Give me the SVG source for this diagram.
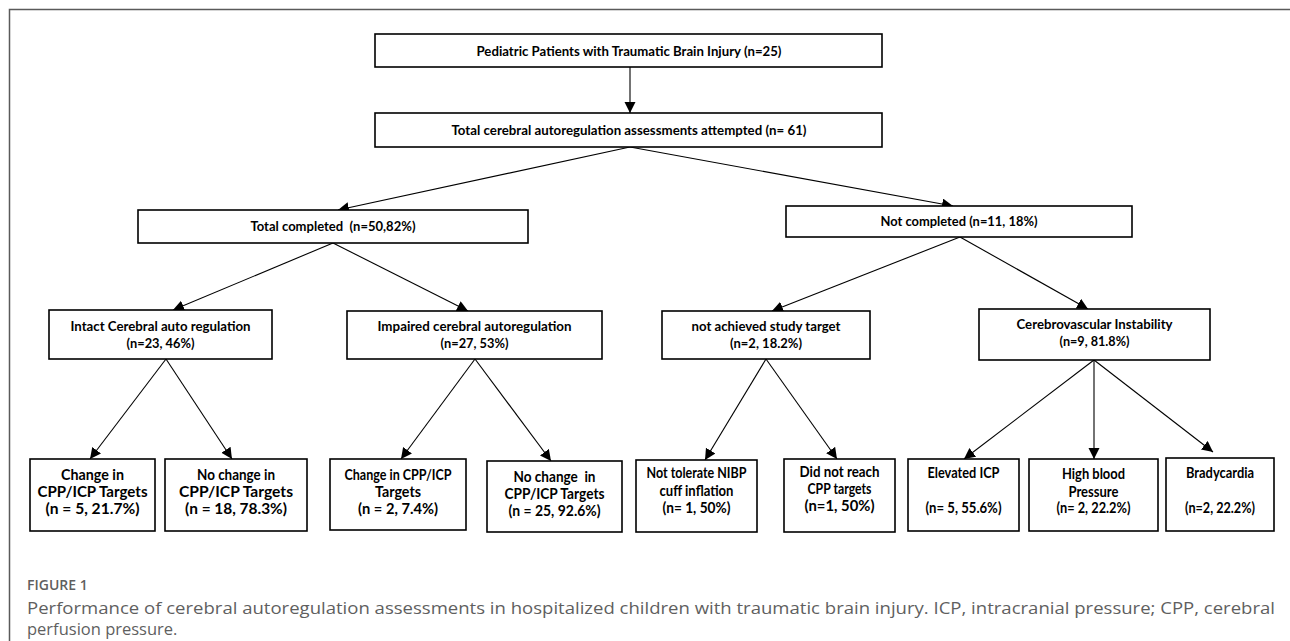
<svg xmlns="http://www.w3.org/2000/svg" width="1290" height="641" viewBox="0 0 1290 641">
<style>
.box{fill:#fff;stroke:#000;stroke-width:1.6}
.t{font-family:Lato,"Liberation Sans",sans-serif;font-weight:700;fill:#000;text-anchor:middle}
.t1{font-size:14px}
.t2{font-size:15px}
.con line{stroke:#000;stroke-width:1.1}
.frame{stroke:#5a5a5a;stroke-width:1.5;fill:none}
.cap{font-family:"Open Sans","Liberation Sans",sans-serif;fill:#5f5f5f}
</style>
<defs>
<marker id="ah" markerUnits="userSpaceOnUse" markerWidth="12" markerHeight="12" refX="11" refY="5.5" orient="auto">
<path d="M0,0 L11,5.5 L0,11 z" fill="#000"/>
</marker>
</defs>
<rect width="1290" height="641" fill="#fff"/>
<path class="frame" d="M9.5,641 V9.5 H1290"/>

<g class="con">
<line x1="630" y1="67" x2="630" y2="113" marker-end="url(#ah)"/>
<line x1="630" y1="147" x2="338" y2="210" marker-end="url(#ah)"/>
<line x1="630" y1="147" x2="953" y2="206" marker-end="url(#ah)"/>
<line x1="333" y1="243" x2="173" y2="310" marker-end="url(#ah)"/>
<line x1="333" y1="243" x2="468" y2="311" marker-end="url(#ah)"/>
<line x1="960" y1="237" x2="772" y2="311" marker-end="url(#ah)"/>
<line x1="960" y1="237" x2="1088" y2="309" marker-end="url(#ah)"/>
<line x1="166" y1="359" x2="90" y2="459" marker-end="url(#ah)"/>
<line x1="166" y1="359" x2="232" y2="459" marker-end="url(#ah)"/>
<line x1="475" y1="359" x2="401" y2="459" marker-end="url(#ah)"/>
<line x1="475" y1="359" x2="551" y2="461" marker-end="url(#ah)"/>
<line x1="766" y1="359" x2="705" y2="460" marker-end="url(#ah)"/>
<line x1="766" y1="359" x2="837" y2="459" marker-end="url(#ah)"/>
<line x1="1094" y1="360" x2="964" y2="459" marker-end="url(#ah)"/>
<line x1="1094" y1="360" x2="1094" y2="459" marker-end="url(#ah)"/>
<line x1="1094" y1="360" x2="1213" y2="452" marker-end="url(#ah)"/>
</g>

<g id="n-patients">
<rect class="box" x="375" y="34" width="507" height="33"/>
<text class="t t1" x="629" y="56" textLength="305" lengthAdjust="spacingAndGlyphs">Pediatric Patients with Traumatic Brain Injury (n=25)</text>
</g>
<g id="n-attempted">
<rect class="box" x="375" y="113" width="507" height="34"/>
<text class="t t1" x="629" y="135" textLength="355" lengthAdjust="spacingAndGlyphs">Total cerebral autoregulation assessments attempted (n= 61)</text>
</g>
<g id="n-completed">
<rect class="box" x="138" y="210" width="390" height="33"/>
<text class="t t1" x="333" y="231" textLength="165" lengthAdjust="spacingAndGlyphs" xml:space="preserve">Total completed  (n=50,82%)</text>
</g>
<g id="n-notcompleted">
<rect class="box" x="786" y="206" width="346" height="31"/>
<text class="t t1" x="959" y="226" textLength="157" lengthAdjust="spacingAndGlyphs">Not completed (n=11, 18%)</text>
</g>
<g id="n-intact">
<rect class="box" x="49" y="310" width="223" height="49"/>
<text class="t t1" x="160.5" y="331" textLength="180" lengthAdjust="spacingAndGlyphs">Intact Cerebral auto regulation</text>
<text class="t t1" x="160.5" y="348" textLength="68" lengthAdjust="spacingAndGlyphs">(n=23, 46%)</text>
</g>
<g id="n-impaired">
<rect class="box" x="347" y="311" width="255" height="48"/>
<text class="t t1" x="474.5" y="331" textLength="194" lengthAdjust="spacingAndGlyphs">Impaired cerebral autoregulation</text>
<text class="t t1" x="474.5" y="348" textLength="68" lengthAdjust="spacingAndGlyphs">(n=27, 53%)</text>
</g>
<g id="n-notachieved">
<rect class="box" x="662" y="311" width="208" height="48"/>
<text class="t t1" x="766" y="331" textLength="149" lengthAdjust="spacingAndGlyphs">not achieved study target</text>
<text class="t t1" x="766" y="348" textLength="72" lengthAdjust="spacingAndGlyphs">(n=2, 18.2%)</text>
</g>
<g id="n-cerebro">
<rect class="box" x="979" y="309" width="231" height="51"/>
<text class="t t1" x="1094.5" y="329" textLength="156" lengthAdjust="spacingAndGlyphs">Cerebrovascular Instability</text>
<text class="t t1" x="1094.5" y="346" textLength="70" lengthAdjust="spacingAndGlyphs">(n=9, 81.8%)</text>
</g>

<g id="n-b1">
<rect class="box" x="30" y="459" width="125" height="72"/>
<text class="t t2" x="92.5" y="480" textLength="63" lengthAdjust="spacingAndGlyphs">Change in</text>
<text class="t t2" x="92.5" y="497" textLength="110" lengthAdjust="spacingAndGlyphs">CPP/ICP Targets</text>
<text class="t t2" x="92.5" y="514" textLength="94" lengthAdjust="spacingAndGlyphs">(n = 5, 21.7%)</text>
</g>
<g id="n-b2">
<rect class="box" x="165" y="459" width="142" height="72"/>
<text class="t t2" x="236" y="480" textLength="78" lengthAdjust="spacingAndGlyphs">No change in</text>
<text class="t t2" x="236" y="497" textLength="114" lengthAdjust="spacingAndGlyphs">CPP/ICP Targets</text>
<text class="t t2" x="236" y="514" textLength="102" lengthAdjust="spacingAndGlyphs">(n = 18, 78.3%)</text>
</g>
<g id="n-b3">
<rect class="box" x="330" y="459" width="136" height="71"/>
<text class="t t2" x="398" y="480" textLength="107" lengthAdjust="spacingAndGlyphs">Change in CPP/ICP</text>
<text class="t t2" x="398" y="497" textLength="46" lengthAdjust="spacingAndGlyphs">Targets</text>
<text class="t t2" x="398" y="514" textLength="80" lengthAdjust="spacingAndGlyphs">(n = 2, 7.4%)</text>
</g>
<g id="n-b4">
<rect class="box" x="487" y="461" width="135" height="71"/>
<text class="t t2" x="554.5" y="482" textLength="82" lengthAdjust="spacingAndGlyphs" xml:space="preserve">No change  in</text>
<text class="t t2" x="554.5" y="499" textLength="100" lengthAdjust="spacingAndGlyphs">CPP/ICP Targets</text>
<text class="t t2" x="554.5" y="516" textLength="92" lengthAdjust="spacingAndGlyphs">(n = 25, 92.6%)</text>
</g>
<g id="n-b5">
<rect class="box" x="636" y="460" width="121" height="72"/>
<text class="t t2" x="696.5" y="478" textLength="100" lengthAdjust="spacingAndGlyphs">Not tolerate NIBP</text>
<text class="t t2" x="696.5" y="496" textLength="74" lengthAdjust="spacingAndGlyphs">cuff inflation</text>
<text class="t t2" x="696.5" y="513" textLength="68" lengthAdjust="spacingAndGlyphs">(n= 1, 50%)</text>
</g>
<g id="n-b6">
<rect class="box" x="784" y="459" width="111" height="73"/>
<text class="t t2" x="839.5" y="477" textLength="80" lengthAdjust="spacingAndGlyphs">Did not reach</text>
<text class="t t2" x="839.5" y="494" textLength="64" lengthAdjust="spacingAndGlyphs">CPP targets</text>
<text class="t t2" x="839.5" y="511" textLength="70" lengthAdjust="spacingAndGlyphs">(n=1, 50%)</text>
</g>
<g id="n-b7">
<rect class="box" x="908" y="459" width="111" height="72"/>
<text class="t t2" x="963.5" y="478" textLength="72" lengthAdjust="spacingAndGlyphs">Elevated ICP</text>
<text class="t t2" x="963.5" y="513" textLength="76" lengthAdjust="spacingAndGlyphs">(n= 5, 55.6%)</text>
</g>
<g id="n-b8">
<rect class="box" x="1029" y="459" width="129" height="72"/>
<text class="t t2" x="1093.5" y="479" textLength="63" lengthAdjust="spacingAndGlyphs">High blood</text>
<text class="t t2" x="1093.5" y="497" textLength="50" lengthAdjust="spacingAndGlyphs">Pressure</text>
<text class="t t2" x="1093.5" y="513" textLength="74" lengthAdjust="spacingAndGlyphs">(n= 2, 22.2%)</text>
</g>
<g id="n-b9">
<rect class="box" x="1166" y="458" width="108" height="73"/>
<text class="t t2" x="1220" y="478" textLength="68" lengthAdjust="spacingAndGlyphs">Bradycardia</text>
<text class="t t2" x="1220" y="513" textLength="70" lengthAdjust="spacingAndGlyphs">(n=2, 22.2%)</text>
</g>

<g id="caption">
<text class="cap" x="27" y="590" font-size="14" font-weight="600">FIGURE 1</text>
<text class="cap" x="27" y="614" font-size="16.5" textLength="1248" lengthAdjust="spacingAndGlyphs">Performance of cerebral autoregulation assessments in hospitalized children with traumatic brain injury. ICP, intracranial pressure; CPP, cerebral</text>
<text class="cap" x="27" y="635" font-size="16.5">perfusion pressure.</text>
</g>
</svg>
